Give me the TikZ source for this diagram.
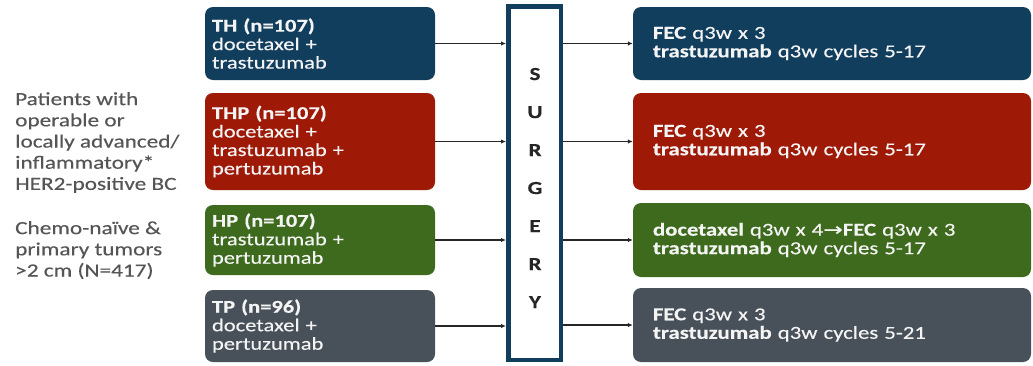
\documentclass[tikz,border=0pt]{standalone}
\usepackage{fontspec}
\setmainfont{Carlito}[FakeStretch=1.25,FakeBold=0.3]
\newfontfamily\arrowfont{DejaVu Sans}[FakeStretch=1.3,FakeBold=0.6]
\usetikzlibrary{arrows.meta}
\definecolor{cnavy}{HTML}{123E5E}
\definecolor{cred}{HTML}{9E1A07}
\definecolor{cgreen}{HTML}{3E6A1D}
\definecolor{cgray}{HTML}{48515A}
\definecolor{ctext}{HTML}{555555}
\definecolor{cwhite}{HTML}{F4F4F4}
\tikzset{
  lbox/.style={rectangle, rounded corners=8pt, draw=none, text=cwhite,
    minimum width=230pt, inner xsep=7pt, inner ysep=0pt, text width=216pt, align=left,
    font=\fontsize{18}{18.5}\selectfont},
  rbox/.style={rectangle, rounded corners=8pt, draw=none, text=cwhite,
    minimum width=398pt, inner xsep=20pt, inner ysep=0pt, text width=358pt, align=left,
    font=\fontsize{18.2}{18.5}\selectfont},
  sidetext/.style={anchor=north west, inner sep=0pt, text=ctext, align=left,
    font=\fontsize{18.6}{21.2}\selectfont},
  surgbox/.style={rectangle, draw=cnavy, line width=4.5pt, fill=white,
    minimum width=52.5pt, minimum height=353.5pt, inner sep=0pt},
  surgletters/.style={inner sep=0pt, align=center, text=black!85,
    font=\fontsize{18.5}{38}\selectfont\bfseries},
  conn/.style={draw=black!85, line width=1.1pt, -{Latex[length=5pt,width=4.5pt]}}
}
\begin{document}
\begin{tikzpicture}[x=1pt,y=-1pt]
\useasboundingbox (0,0) rectangle (1033,365);
% side text
\node[sidetext] (pt1) at (15,92) {Patients with\\operable or\\locally advanced/\\inflammatory*\\HER2-positive BC};
\node[sidetext] (pt2) at (15,221) {Chemo-na\"ive \&\\primary tumors\\>2 cm (N=417)};
% left boxes
\node[lbox, fill=cnavy, minimum height=73pt] (l1) at (320,43.5) {\textbf{TH (n=107)}\\docetaxel +\\trastuzumab};
\node[lbox, fill=cred, minimum height=97pt] (l2) at (320,141.5) {\textbf{THP (n=107)}\\docetaxel +\\trastuzumab +\\pertuzumab};
\node[lbox, fill=cgreen, minimum height=70pt] (l3) at (320,240) {\textbf{HP (n=107)}\\trastuzumab +\\pertuzumab};
\node[lbox, fill=cgray, minimum height=72pt] (l4) at (320,326) {\textbf{TP (n=96)}\\docetaxel +\\pertuzumab};
% surgery
\node[surgbox] (surg) at (534.5,183) {};
\node[surgletters] (surgtxt) at (535,188) {S\\U\\R\\G\\E\\R\\Y};
% right boxes
\node[rbox, fill=cnavy, minimum height=73pt] (r1) at (832,43.5) {\textbf{FEC} q3w x 3\\\textbf{trastuzumab} q3w cycles 5-17};
\node[rbox, fill=cred, minimum height=97pt] (r2) at (832,141.5) {\textbf{FEC} q3w x 3\\\textbf{trastuzumab} q3w cycles 5-17};
\node[rbox, fill=cgreen, minimum height=74pt] (r3) at (832,240) {\textbf{docetaxel} q3w x 4{\arrowfont\fontsize{18}{18}\selectfont→}\textbf{FEC} q3w x 3\\\textbf{trastuzumab} q3w cycles 5-17};
\node[rbox, fill=cgray, minimum height=74pt] (r4) at (832,325) {\textbf{FEC} q3w x 3\\\textbf{trastuzumab} q3w cycles 5-21};
% connectors
\foreach \i in {1,2,3,4}{
  \draw[conn] (l\i.east) -- (l\i.east -| surg.west);
  \draw[conn] (r\i.west -| surg.east) -- (r\i.west);
}
\end{tikzpicture}
\end{document}
